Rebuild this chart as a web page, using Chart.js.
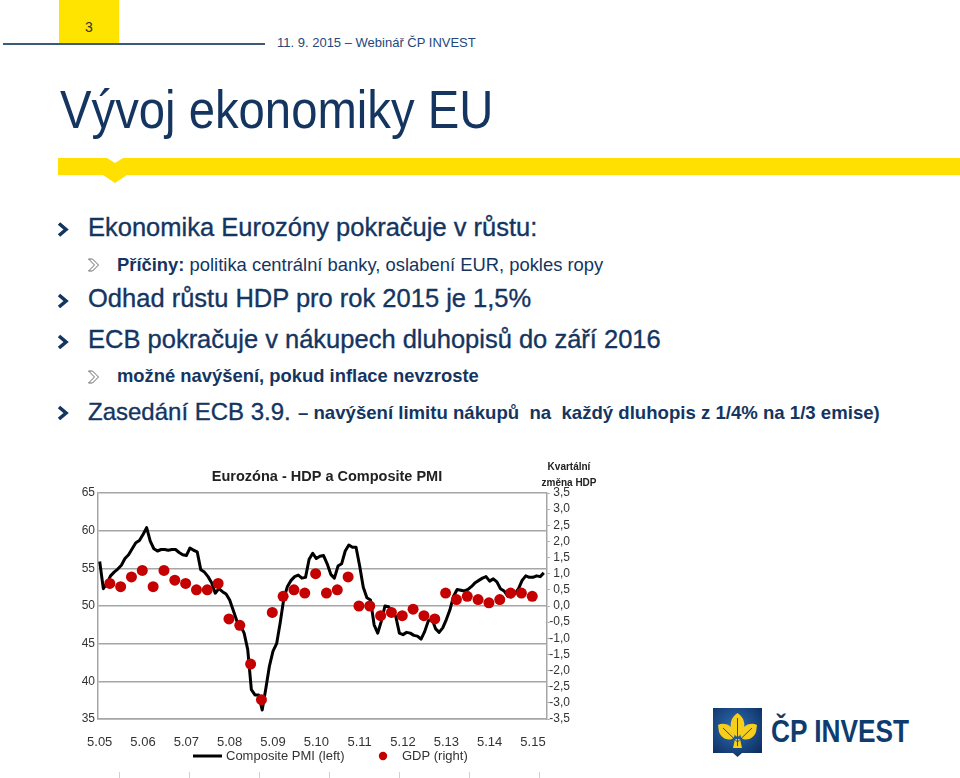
<!DOCTYPE html>
<html lang="cs">
<head>
<meta charset="utf-8">
<title>Vývoj ekonomiky EU</title>
<script src="https://cdn.jsdelivr.net/npm/chart.js@4.4.1/dist/chart.umd.min.js"></script>
<style>
  html, body { margin: 0; padding: 0; background: #fff; }
  body {
    width: 960px; height: 778px; position: relative; overflow: hidden;
    font-family: "Liberation Sans", Arial, sans-serif; color: #14355f;
  }
  .abs { position: absolute; white-space: nowrap; line-height: 1; }
  .main { font-size: 25.5px; left: 88px; -webkit-text-stroke: 0.35px #14355f; }
  .sub { font-size: 18.4px; left: 117px; }
  .b { font-weight: bold; }
  #chartBox { position: absolute; left: 0; top: 440px; }
  .tick { position: absolute; top: 772px; width: 1px; height: 6px; background: #d0d0d0; }
</style>
</head>
<body>

<!-- header -->
<div class="abs" style="left:59px;top:0;width:60px;height:44px;background:#ffe400;"></div>
<div class="abs" style="left:59px;top:20px;width:60px;text-align:center;font-size:14px;color:#333;">3</div>
<div class="abs" style="left:3px;top:43px;width:262px;height:2px;background:#3d5a78;"></div>
<div class="abs" style="left:277px;top:35.5px;font-size:13px;color:#24487a;">11. 9. 2015 – Webinář ČP INVEST</div>

<div class="abs" style="left:60px;top:82px;font-size:54px;transform:scaleX(0.875);transform-origin:left top;">Vývoj ekonomiky EU</div>

<svg class="abs" style="left:0;top:0" width="960" height="200">
  <polygon fill="#ffe000" points="58,158 107,158 115,163 123,158 960,158 960,175 127,175 115,183 103,175 58,175"/>
</svg>

<!-- bullets -->
<svg class="abs" style="left:0;top:200px" width="110" height="230">
  <g fill="none" stroke="#14355f" stroke-width="3.6">
    <polyline points="59,23.5 66,29.5 59,35.5"/>
    <polyline points="59,95 66,101 59,107"/>
    <polyline points="59,136 66,142 59,148"/>
    <polyline points="59,207 66,213 59,219"/>
  </g>
  <g fill="none" stroke="#6a6a6a" stroke-width="1">
    <polygon points="88.5,59 92.5,59 98.5,65 92.5,71 88.5,71 94.5,65"/>
    <polygon points="88.5,171 92.5,171 98.5,177 92.5,183 88.5,183 94.5,177"/>
  </g>
</svg>

<div class="abs main" style="top:215.4px;">Ekonomika Eurozóny pokračuje v růstu:</div>
<div class="abs sub" style="top:256.4px;"><span class="b">Příčiny:</span> politika centrální banky, oslabení EUR, pokles ropy</div>
<div class="abs main" style="top:286.4px;">Odhad růstu HDP pro rok 2015 je 1,5%</div>
<div class="abs main" style="top:327.4px;">ECB pokračuje v nákupech dluhopisů do září 2016</div>
<div class="abs sub b" style="top:367.4px;">možné navýšení, pokud inflace nevzroste</div>
<div class="abs main" style="top:399.7px;font-size:24px;">Zasedání ECB 3.9.</div>
<div class="abs b" style="left:298px;top:404.2px;font-size:18.6px;">– navýšení limitu nákupů&nbsp; na&nbsp; každý dluhopis z 1/4% na 1/3 emise)</div>

<!-- chart -->
<canvas id="chartBox" width="620" height="338"></canvas>

<div class="tick" style="left:119px"></div>
<div class="tick" style="left:189px"></div>
<div class="tick" style="left:259px"></div>
<div class="tick" style="left:329px"></div>
<div class="tick" style="left:399px"></div>
<div class="tick" style="left:469px"></div>
<div class="tick" style="left:539px"></div>

<!-- logo -->
<svg class="abs" style="left:713px;top:706px" width="50" height="52">
  <defs>
    <radialGradient id="lg" cx="0.45" cy="0.4" r="0.7">
      <stop offset="0" stop-color="#2f6db5"/>
      <stop offset="1" stop-color="#0d2f62"/>
    </radialGradient>
  </defs>
  <path fill="url(#lg)" d="M0,2 h49 v45 h-20 l-4.5,4 l-4.5,-4 h-20 z"/>
  <g fill="#f5cf1c">
    <path d="M24.5,7 C31,11 33,19 30,25 C28.5,28 26.5,30 24.5,31 C22.5,30 20.5,28 19,25 C16,19 18,11 24.5,7 Z"/>
    <path d="M5,19 C11,16 18,19 21,25 C22.5,29 21,32 19,33 C13,35 8,31 6,26 Z"/>
    <path d="M44,19 C38,16 31,19 28,25 C26.5,29 28,32 30,33 C36,35 41,31 43,26 Z"/>
    <path d="M22,33 h5 l2,9 h-9 z"/>
  </g>
  <g stroke="#1c4f93" stroke-width="1" fill="none">
    <path d="M24.5,12 V40"/>
    <path d="M10,22 L24.5,36 L39,22"/>
  </g>
</svg>
<div class="abs b" style="left:771px;top:715px;font-size:32px;color:#0f3c6e;transform:scaleX(0.82);transform-origin:left top;">ČP INVEST</div>

<script>
// Composite PMI, monthly from the first tick (left axis)
const pmi = [
  55.9, 52.3, 53.0, 54.0, 54.5, 54.9, 55.4, 56.3, 56.8, 57.6,
  58.4, 58.7, 59.5, 60.4, 58.6, 57.6, 57.3, 57.5, 57.5, 57.4,
  57.5, 57.5, 57.1, 56.8, 56.7, 57.7, 57.4, 57.2, 54.8, 54.5,
  53.9, 53.1, 51.7, 52.3, 51.9, 51.6, 50.8, 49.4, 48.0, 47.4,
  46.4, 44.2, 38.9, 38.2, 38.2, 36.2, 39.0, 42.0, 44.0, 45.0,
  47.8, 51.0, 52.6, 53.4, 53.9, 54.1, 53.7, 53.8, 56.2, 57.0,
  56.3, 56.6, 56.7, 55.6, 54.2, 53.7, 55.3, 55.6, 57.3, 58.1,
  57.8, 57.8, 55.3, 52.5, 51.1, 50.8, 47.5, 46.4, 48.0, 50.0,
  49.9, 49.2, 48.6, 46.4, 46.2, 46.5, 46.4, 46.1, 46.0, 45.6,
  46.6, 48.0, 48.3, 47.0, 46.5, 47.1, 48.2, 49.5, 51.3, 52.2,
  52.1, 52.0, 52.2, 52.6, 53.1, 53.4, 53.7, 53.9, 53.3, 53.6,
  53.2, 52.3, 52.0, 51.3, 51.2, 51.6, 52.3, 53.4, 54.0, 53.8,
  53.8, 54.0, 53.9, 54.4
];

// quarterly GDP change, % (right axis)
const gdp = [
  0.7, 0.6, 0.9, 1.1, 0.6, 1.1, 0.8, 0.7, 0.5, 0.5,
  0.7, -0.4, -0.6, -1.8, -2.9, -0.2, 0.3, 0.5, 0.4, 1.0,
  0.4, 0.5, 0.9, 0.0, 0.0, -0.3, -0.2, -0.3, -0.1, -0.3,
  -0.4, 0.4, 0.2, 0.3, 0.2, 0.1, 0.2, 0.4, 0.4, 0.3
];

const xTickMonths = [0, 12, 24, 36, 48, 60, 72, 84, 96, 108, 120];
const xTickLabels = ["5.05", "5.06", "5.07", "5.08", "5.09", "5.10", "5.11", "5.12", "5.13", "5.14", "5.15"];

const FONT = '"Liberation Sans", Arial, sans-serif';

// x = month index; GDP dots sit at the end of each quarter
const pmiPoints = pmi.map((v, i) => ({x: i, y: v}));
const gdpPoints = gdp.map((v, i) => ({x: 3 * (i + 1) - 0.2, y: v}));

const decor = {
  id: "decor",
  afterDraw(chart) {
    const ctx = chart.ctx;
    ctx.save();
    ctx.fillStyle = "#222";
    ctx.textAlign = "center";
    ctx.textBaseline = "middle";
    ctx.font = "bold 14.5px " + FONT;
    ctx.fillText("Eurozóna - HDP a Composite PMI", 327, 37);

    ctx.font = "bold 10px " + FONT;
    ctx.fillText("Kvartální", 569, 27);
    ctx.fillText("změna HDP", 569, 43);

    // legend
    ctx.strokeStyle = "#000";
    ctx.lineWidth = 3;
    ctx.beginPath();
    ctx.moveTo(193, 316);
    ctx.lineTo(222, 316);
    ctx.stroke();
    ctx.fillStyle = "#c40000";
    ctx.beginPath();
    ctx.arc(383, 316, 4.2, 0, Math.PI * 2);
    ctx.fill();
    ctx.fillStyle = "#333";
    ctx.textAlign = "left";
    ctx.font = "13px " + FONT;
    ctx.fillText("Composite PMI (left)", 226, 316);
    ctx.fillText("GDP (right)", 402, 316);
    ctx.restore();
  }
};

new Chart(document.getElementById("chartBox"), {
  type: "line",
  data: {
    datasets: [
      {
        label: "GDP (right)",
        data: gdpPoints,
        yAxisID: "y2",
        showLine: false,
        pointRadius: 5.5,
        pointBackgroundColor: "#c40000",
        pointBorderWidth: 0,
        borderColor: "#c40000"
      },
      {
        label: "Composite PMI (left)",
        data: pmiPoints,
        yAxisID: "y",
        borderColor: "#000",
        borderWidth: 3,
        pointRadius: 0,
        tension: 0,
        borderJoinStyle: "round"
      }
    ]
  },
  options: {
    responsive: false,
    animation: false,
    devicePixelRatio: 1,
    layout: {padding: {top: 53, left: 0, right: 50, bottom: 0}},
    plugins: {legend: {display: false}, tooltip: {enabled: false}},
    scales: {
      x: {
        type: "linear",
        min: -0.47,
        max: 123.8,
        grid: {display: false},
        border: {display: true, color: "#a6a6a6", width: 1.5},
        afterBuildTicks: (scale) => {
          scale.ticks = xTickMonths.map((v) => ({value: v}));
        },
        ticks: {
          callback: (v, i) => xTickLabels[i],
          color: "#333",
          font: {size: 13, family: FONT},
          padding: 8,
          maxRotation: 0,
          autoSkip: false
        },
        afterFit: (scale) => { scale.height = 59; }
      },
      y: {
        position: "left",
        min: 35,
        max: 65,
        ticks: {stepSize: 5, color: "#333", font: {size: 12, family: FONT}, padding: 3},
        grid: {color: "#a6a6a6", lineWidth: 1.5, drawTicks: false},
        border: {color: "#a6a6a6", width: 1.5},
        afterFit: (scale) => { scale.width = 98; }
      },
      y2: {
        position: "right",
        min: -3.5,
        max: 3.5,
        ticks: {
          stepSize: 0.5,
          autoSkip: false,
          callback: (v) => v.toFixed(1).replace(".", ","),
          color: "#333",
          font: {size: 12, family: FONT},
          crossAlign: "far",
          padding: 0
        },
        grid: {drawOnChartArea: false, tickLength: 3, color: "#a6a6a6"},
        border: {color: "#a6a6a6", width: 1.5},
        afterFit: (scale) => { scale.width = 23.3; }
      }
    }
  },
  plugins: [decor]
});
</script>
</body>
</html>
